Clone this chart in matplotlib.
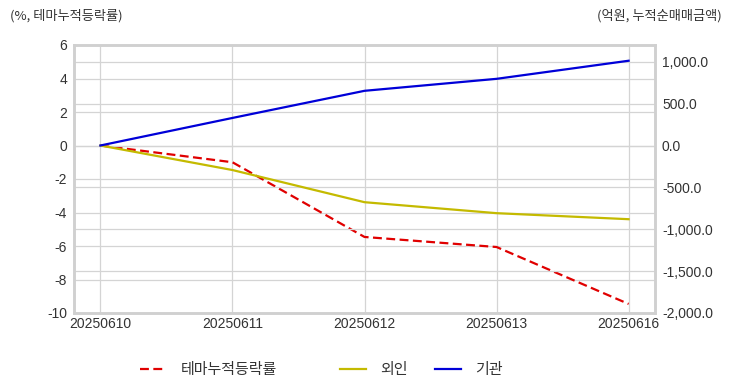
import matplotlib.pyplot as plt
from matplotlib.ticker import FuncFormatter

plt.rcParams['font.family'] = ['Noto Sans CJK KR', 'DejaVu Sans']

dates = ['20250610', '20250611', '20250612', '20250613', '20250616']
theme_rate = [0.0, -1.0, -5.46, -6.06, -9.46]   # %, left axis
foreign = [0.0, -293, -677, -808, -880]          # 억원, right axis
institution = [0.0, 329, 653, 796, 1012]         # 억원, right axis

grid_c = '#d4d4d4'
text_c = '#333333'
num_font = ['Liberation Sans', 'DejaVu Sans']

fig = plt.figure(figsize=(7.32, 3.92), dpi=100)
ax = fig.add_axes([74 / 732, 1 - 313 / 392, 581 / 732, 268 / 392])
ax2 = ax.twinx()

x = range(len(dates))
l1, = ax.plot(x, theme_rate, color='#e00000', lw=1.6, ls=(0, (4, 2)), label='테마누적등락률')
l2, = ax2.plot(x, foreign, color='#c4ba00', lw=1.6, label='외인')
l3, = ax2.plot(x, institution, color='#0000d8', lw=1.6, label='기관')

ax.set_xlim(-0.2, 4.2)
ax.set_ylim(-10, 6)
ax.set_yticks(range(-10, 7, 2))
ax2.set_ylim(-2000, 1200)
ax2.set_yticks(range(-2000, 1001, 500))
ax2.yaxis.set_major_formatter(FuncFormatter(lambda v, p: f'{v:,.1f}'))
ax.yaxis.set_major_formatter(FuncFormatter(lambda v, p: f'{v:g}'))
ax.set_xticks(list(x))
ax.set_xticklabels(dates)

ax.grid(True, color=grid_c, lw=0.9)
ax2.grid(True, axis='y', color=grid_c, lw=0.9)
ax.set_axisbelow(True)

for a in (ax, ax2):
    for s in a.spines.values():
        s.set_color('#d0d0d0')
        s.set_linewidth(1.8)
    a.tick_params(length=0, labelsize=10, colors=text_c, pad=5)
    for lab in a.get_xticklabels() + a.get_yticklabels():
        lab.set_family(num_font)
ax.tick_params(axis='x', pad=3)

fig.text(10 / 732, 1 - 16 / 392, '(%, 테마누적등락률)', fontsize=9.5, color=text_c, va='center', ha='left')
fig.text(722 / 732, 1 - 16 / 392, '(억원, 누적순매매금액)', fontsize=9.5, color=text_c, va='center', ha='right')

# three legend entries placed where the reference has them
for line, left in [(l1, 140), (l2, 340), (l3, 435)]:
    fig.legend(handles=[line], loc='center left', bbox_to_anchor=(left / 732, 1 - 370 / 392),
               frameon=False, fontsize=10.8, handlelength=1.7, handletextpad=1.0,
               borderpad=0, borderaxespad=0, labelcolor=text_c)

fig.savefig('out.png', dpi=100)
